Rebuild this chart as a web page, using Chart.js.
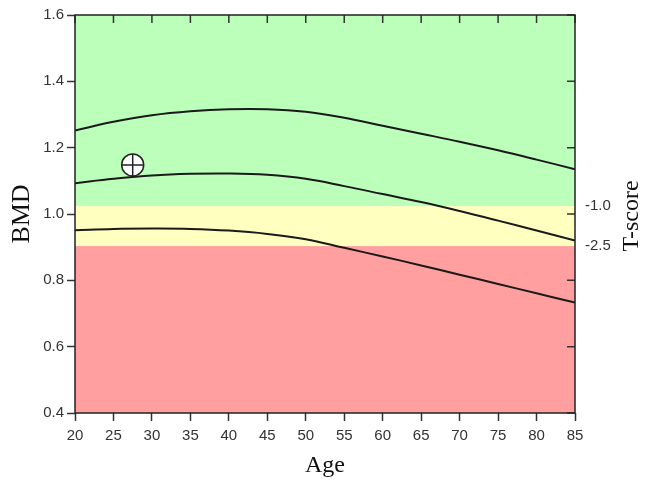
<!DOCTYPE html>
<html lang="en">
<head>
    <meta charset="UTF-8">
    <title>BMD by Age</title>
    <script src="https://cdn.jsdelivr.net/npm/chart.js"></script>
    <style>
        body {
            margin: 0;
            background: white;
        }
    </style>
</head>
<body>
    <canvas id="bmdChart" width="645" height="480"></canvas>

    <script>
        // data
        const ages = [20, 25, 30, 35, 40, 45, 50, 55, 60, 65, 70, 75, 80, 85];
        const upperCurve = [1.252, 1.278, 1.298, 1.310, 1.316, 1.316, 1.308, 1.290, 1.266, 1.242, 1.218, 1.192, 1.164, 1.135];
        const middleCurve = [1.093, 1.106, 1.116, 1.121, 1.122, 1.118, 1.106, 1.084, 1.060, 1.036, 1.009, 0.980, 0.950, 0.920];
        const lowerCurve = [0.951, 0.955, 0.956, 0.955, 0.950, 0.940, 0.924, 0.898, 0.872, 0.845, 0.817, 0.789, 0.761, 0.733];

        const patientAge = [27.5];
        const patientBMD = [1.148];

        const bmdMin = 0.4, bmdMax = 1.6;
        const tScoreTicks = [-1.0, -2.5];
        const refMean = 1.104;   // young adult mean BMD
        const refSD = 0.0803;
        const toBMD = t => refMean + t * refSD;
        const toT = b => (b - refMean) / refSD;

        const bandColors = ['#bbffbb', '#ffffc0', '#ff9f9f'];

        const toPoints = vals => ages.map((a, i) => ({ x: a, y: vals[i] }));

        const curveStyle = {
            borderColor: '#1a1a1a',
            borderWidth: 2,
            pointRadius: 0,
            tension: 0.4,
            order: 2
        };

        const frame = {
            id: 'frame',
            beforeDatasetsDraw(chart) {
                const { ctx, chartArea: a, scales: { y } } = chart;
                const edges = [bmdMax, toBMD(tScoreTicks[0]), toBMD(tScoreTicks[1]), bmdMin];
                ctx.save();
                for (let i = 0; i < 3; i++) {
                    const top = y.getPixelForValue(edges[i]);
                    const bot = y.getPixelForValue(edges[i + 1]);
                    ctx.fillStyle = bandColors[i];
                    ctx.fillRect(a.left, top, a.right - a.left, bot - top);
                }
                ctx.restore();
            },
            afterDatasetsDraw(chart) {
                const { ctx, chartArea: a, scales: { x, y } } = chart;
                ctx.save();
                ctx.strokeStyle = '#333';
                ctx.lineWidth = 1.5;
                ctx.beginPath();
                // inward ticks, top and right
                x.ticks.forEach(t => {
                    const px = x.getPixelForValue(t.value);
                    ctx.moveTo(px, a.top);
                    ctx.lineTo(px, a.top + 8);
                });
                y.ticks.forEach(t => {
                    const py = y.getPixelForValue(t.value);
                    ctx.moveTo(a.right, py);
                    ctx.lineTo(a.right - 8, py);
                });
                ctx.stroke();
                ctx.strokeStyle = '#222';
                ctx.strokeRect(a.left, a.top, a.right - a.left, a.bottom - a.top);

                // right axis title, reading upwards
                ctx.fillStyle = '#111';
                ctx.font = '24px "Liberation Serif", serif';
                ctx.textAlign = 'center';
                ctx.textBaseline = 'middle';
                ctx.translate(632, 216);
                ctx.rotate(-Math.PI / 2);
                ctx.fillText('T-score', 0, 0);
                ctx.restore();
            }
        };

        const tickFont = { family: '"Liberation Sans", Arial, sans-serif', size: 15 };
        const titleFont = { family: '"Liberation Serif", "Times New Roman", serif', size: 24 };

        new Chart(document.getElementById('bmdChart'), {
            type: 'line',
            data: {
                datasets: [
                    {
                        type: 'scatter',
                        data: [{ x: patientAge[0], y: patientBMD[0] }],
                        pointStyle: 'cross',
                        pointRadius: 11,
                        borderColor: '#222',
                        borderWidth: 1.5,
                        order: 0
                    },
                    {
                        type: 'scatter',
                        data: [{ x: patientAge[0], y: patientBMD[0] }],
                        pointStyle: 'circle',
                        pointRadius: 11,
                        backgroundColor: 'white',
                        borderColor: '#222',
                        borderWidth: 1.5,
                        order: 1
                    },
                    { data: toPoints(upperCurve), ...curveStyle },
                    { data: toPoints(middleCurve), ...curveStyle },
                    { data: toPoints(lowerCurve), ...curveStyle }
                ]
            },
            options: {
                responsive: false,
                animation: false,
                layout: { padding: { top: 15, left: 0, right: 0, bottom: 0 } },
                plugins: {
                    legend: { display: false },
                    tooltip: { enabled: false }
                },
                scales: {
                    x: {
                        type: 'linear',
                        min: 20,
                        max: 85,
                        border: { display: false },
                        grid: { drawOnChartArea: false, tickLength: 8, tickColor: '#333', tickWidth: 1.5 },
                        ticks: { stepSize: 5, padding: 6, color: '#333', font: tickFont },
                        title: { display: true, text: 'Age', color: '#111', font: titleFont, padding: { top: 0, bottom: 0 } },
                        afterFit: s => { s.height = 67; }
                    },
                    y: {
                        min: bmdMin,
                        max: bmdMax,
                        border: { display: false },
                        grid: { drawOnChartArea: false, tickLength: 8, tickColor: '#333', tickWidth: 1.5 },
                        ticks: { stepSize: 0.2, padding: 3, color: '#333', font: tickFont, callback: v => v.toFixed(1) },
                        title: { display: true, text: 'BMD', color: '#111', font: { ...titleFont, size: 26 }, padding: { top: 7, bottom: 0 } },
                        afterFit: s => { s.width = 75; }
                    },
                    y2: {
                        position: 'right',
                        min: toT(bmdMin),
                        max: toT(bmdMax),
                        border: { display: false },
                        grid: { display: false },
                        afterBuildTicks: s => { s.ticks = tScoreTicks.map(v => ({ value: v })); },
                        ticks: { padding: 2, color: '#333', font: tickFont, callback: v => v.toFixed(1) },
                        afterFit: s => { s.width = 70; }
                    }
                }
            },
            plugins: [frame]
        });
    </script>
</body>
</html>
